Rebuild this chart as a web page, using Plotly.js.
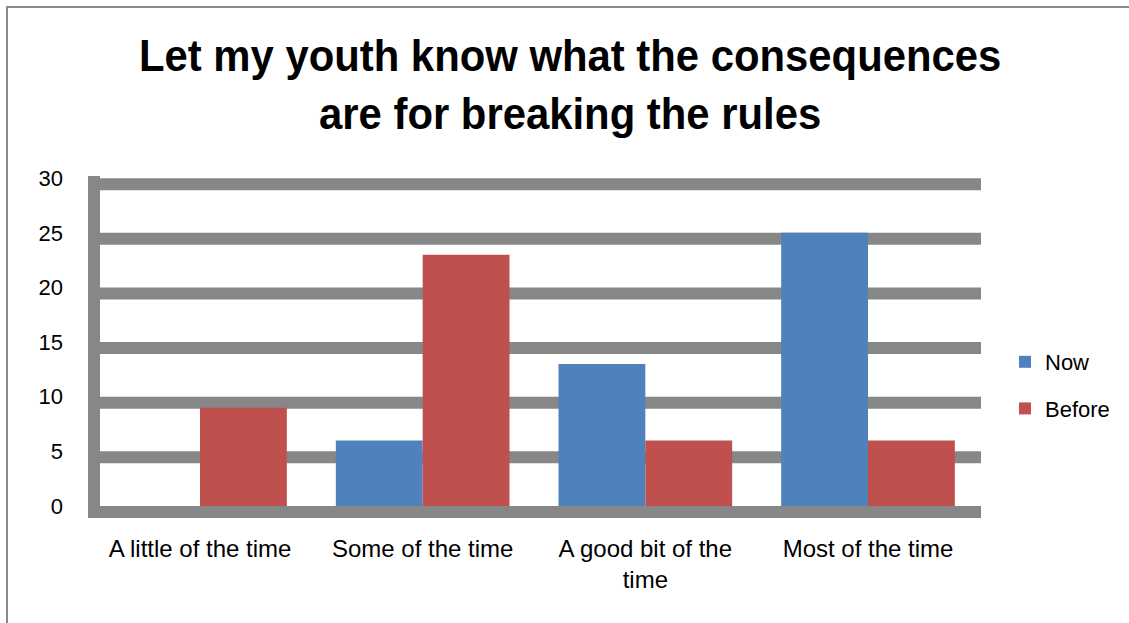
<!DOCTYPE html>
<html>
<head>
<meta charset="utf-8">
<script src="https://cdn.plot.ly/plotly-3.0.1.min.js"></script>
<style>html,body{margin:0;padding:0;background:#fff;}#chart{width:1129px;height:623px;}</style>
</head>
<body>
<div id="chart"></div>
<script>
const categories = ["A little of the time", "Some of the time", "A good bit of the<br>time", "Most of the time"];
const seriesNames = ["Now", "Before"];
const nowValues = [0, 6, 13, 25];
const beforeValues = [9, 23, 6, 6];
const tickValues = [0, 5, 10, 15, 20, 25, 30];
const tickLabels = ["0", "5", "10", "15", "20", "25", "30"];

const W = 1129, H = 623;
const L = 88, R = 981, T = 176, B = 518;
const yMin = -1.1, yMax = 30.2;
const unitPx = (B - T) / (yMax - yMin);
const gridThick = 12 / unitPx;
const px2paperX = p => (p - L) / (R - L);
const px2paperY = p => (B - p) / (B - T);

const gray = '#878787';
const shapes = [];
tickValues.forEach(v => {
  if (v === 0) return;
  shapes.push({type:'rect', xref:'paper', yref:'y', x0:0, x1:1, y0:v - gridThick, y1:v,
    fillcolor:gray, line:{width:0}, layer:'below'});
});
// floor
shapes.push({type:'rect', xref:'paper', yref:'y', x0:0, x1:1, y0:yMin, y1:0,
  fillcolor:gray, line:{width:0}, layer:'below'});
// left wall
shapes.push({type:'rect', xref:'paper', yref:'paper', x0:0, x1:px2paperX(100), y0:0, y1:1,
  fillcolor:gray, line:{width:0}, layer:'below'});
// outer chart border
shapes.push({type:'rect', xref:'paper', yref:'paper', x0:px2paperX(7), x1:px2paperX(1140), y0:px2paperY(640), y1:px2paperY(7),
  fillcolor:'rgba(0,0,0,0)', line:{width:2, color:'#8a8a8a'}, layer:'below'});

const data = [
  {type:'bar', name:seriesNames[0], legendgroup:'a', x:[0,1,2,3], y:nowValues, marker:{color:'#4F81BD', line:{width:0}}},
  {type:'bar', name:seriesNames[1], legendgroup:'b', x:[0,1,2,3], y:beforeValues, marker:{color:'#C0504D', line:{width:0}}}
];

const layout = {
  width: W, height: H,
  margin:{l:L, r:W - R, t:T, b:H - B, pad:0},
  paper_bgcolor:'#fff', plot_bgcolor:'rgba(0,0,0,0)',
  font:{family:'"Liberation Sans", Arial, sans-serif', size:22, color:'#000'},
  title:{text:'Let my youth know what the consequences<br>are for breaking the rules',
    font:{family:'"Liberation Sans", Arial, sans-serif', size:45, weight:'bold', color:'#000'},
    x:0.505, xanchor:'center', y:1 - 71/H, yanchor:'middle'},
  barmode:'group', bargap:0.22, bargroupgap:0,
  xaxis:{range:[-0.503, 3.5075], tickmode:'array', tickvals:[0,1,2,3], ticktext:categories,
    showgrid:false, zeroline:false, showline:false, ticks:'', ticklabelstandoff:14,
    tickfont:{size:24}},
  yaxis:{range:[yMin, yMax], tickmode:'array', tickvals:tickValues, ticktext:tickLabels,
    showgrid:false, zeroline:false, showline:false, ticks:'', ticklabelstandoff:24,
    tickfont:{size:22}},
  legend:{x:px2paperX(1005), xanchor:'left', y:px2paperY(341), yanchor:'top',
    font:{size:22}, itemwidth:30, traceorder:'grouped', tracegroupgap:15, bgcolor:'rgba(0,0,0,0)'},
  shapes: shapes,
  showlegend:true
};

Plotly.newPlot('chart', data, layout, {displayModeBar:false, staticPlot:true}).then(gd => {
  const t = gd.querySelector('.gtitle');
  if (t) {
    const bb = t.getBBox();
    const cx = bb.x + bb.width / 2;
    t.setAttribute('transform', `translate(${cx},0) scale(0.93,1) translate(${-cx},0)`);
  }
});
</script>
</body>
</html>
